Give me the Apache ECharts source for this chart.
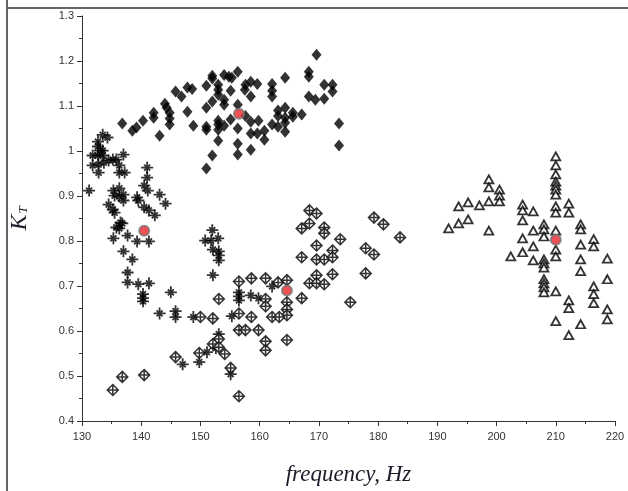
<!DOCTYPE html>
<html style="height: 100%">
<head>
    <meta charset="utf-8">
    <title>K_T vs frequency</title>
    <script type="text/javascript" src="https://cdn.jsdelivr.net/npm/echarts@6/dist/echarts.min.js"></script>
</head>
<body style="height: 100%; margin: 0; background: #fff">
    <div id="container" style="width: 628px; height: 491px"></div>
    <script type="text/javascript">
        // axis ranges
        var xMin = 130, xMax = 220, xStep = 10;
        var yMin = 0.4, yMax = 1.3, yStep = 0.1;

        // filled diamonds [frequency, K_T]
        var filledDiamond = [
            [136.8,1.061],[138.5,1.045],[139.2,1.052],[140.3,1.067],[142.1,1.085],[142.1,1.074],[143.1,1.034],
            [144.0,1.105],[144.3,1.096],[144.8,1.085],[144.8,1.072],[144.8,1.059],[145.8,1.132],[146.8,1.121],
            [147.8,1.087],[147.8,1.141],[148.6,1.138],[148.8,1.056],[151.0,1.145],[151.0,1.096],[151.0,1.054],
            [151.0,1.047],[151.0,0.961],[152.0,1.167],[152.0,1.161],[153.0,1.147],[153.0,1.136],[153.0,1.125],
            [152.0,1.110],[152.0,0.990],[153.0,1.067],[153.0,1.059],[153.0,1.047],[153.0,1.023],[154.0,1.169],
            [154.8,1.165],[155.3,1.163],[154.0,1.114],[154.0,1.103],[154.0,1.056],[155.1,1.134],[155.1,1.070],
            [156.3,1.176],[156.3,1.103],[156.3,1.050],[156.3,1.016],[156.3,0.992],[157.6,1.147],[157.5,1.136],
            [158.5,1.154],[157.6,1.078],[158.5,1.121],[158.5,1.065],[158.5,1.039],[158.5,1.003],[159.6,1.149],
            [159.8,1.067],[159.6,1.039],[160.8,1.045],[160.8,1.025],[162.1,1.149],[162.1,1.134],[162.1,1.121],
            [162.1,1.059],[163.1,1.090],[163.1,1.078],[163.1,1.054],[164.3,1.163],[164.3,1.096],[164.3,1.074],
            [164.3,1.063],[164.3,1.043],[165.6,1.085],[165.6,1.076],[167.1,1.081],[168.3,1.176],[168.3,1.165],
            [168.3,1.121],[169.6,1.214],[169.4,1.114],[170.9,1.147],[170.9,1.116],[172.3,1.147],[172.3,1.132],
            [173.4,1.061],[173.4,1.012]
        ];

        // asterisks
        var asterisk = [
            [133.5,1.036],[134.3,1.030],[132.7,1.021],[132.7,1.010],[133.0,1.001],[133.5,1.001],[131.8,0.990],
            [132.7,0.990],[133.5,0.990],[131.8,0.968],[132.8,0.970],[132.8,0.952],[133.7,0.974],[134.5,0.979],
            [135.2,0.981],[135.8,0.981],[137.0,0.992],[136.3,0.968],[136.3,0.952],[137.2,0.952],[131.2,0.912],
            [135.3,0.912],[135.5,0.901],[136.3,0.917],[136.3,0.899],[137.0,0.903],[137.0,0.890],[134.5,0.881],
            [135.2,0.870],[135.5,0.863],[141.0,0.963],[141.0,0.941],[140.5,0.923],[141.1,0.912],[139.3,0.897],
            [139.5,0.890],[143.1,0.903],[144.1,0.883],[140.5,0.875],[141.3,0.868],[142.3,0.857],[136.5,0.841],
            [135.8,0.830],[136.3,0.828],[136.8,0.839],[137.7,0.812],[135.3,0.806],[139.3,0.799],[141.3,0.799],
            [137.0,0.777],[138.5,0.759],[137.7,0.730],[137.7,0.708],[139.5,0.704],[141.3,0.706],[140.3,0.682],
            [140.3,0.673],[140.3,0.666],[145.0,0.686],[143.1,0.639],[145.8,0.644],[145.8,0.631],[148.8,0.631],
            [152.1,0.781],[153.1,0.777],[153.1,0.768],[153.1,0.757],[150.8,0.801],[151.8,0.801],[152.0,0.824],
            [153.0,0.806],[152.1,0.724],[155.3,0.633],[156.5,0.686],[156.5,0.677],[156.5,0.668],[158.5,0.679],
            [159.8,0.673],[162.1,0.699],[153.1,0.593],[151.1,0.553],[152.6,0.562],[149.8,0.531],[147.0,0.526],
            [155.1,0.504]
        ];

        // diamonds with a cross inside
        var crossedDiamond = [
            [168.4,0.868],[169.6,0.861],[167.1,0.828],[168.4,0.839],[170.9,0.830],[170.9,0.817],[173.6,0.804],
            [179.3,0.852],[180.9,0.837],[183.7,0.808],[177.9,0.784],[179.3,0.770],[169.6,0.790],[172.3,0.779],
            [167.1,0.764],[169.6,0.759],[170.9,0.759],[172.3,0.764],[177.9,0.728],[172.3,0.726],[169.6,0.724],
            [168.4,0.706],[169.6,0.706],[170.9,0.704],[156.5,0.710],[158.6,0.717],[161.0,0.717],[163.1,0.708],
            [164.6,0.713],[167.1,0.673],[161.0,0.671],[161.0,0.655],[164.6,0.664],[164.6,0.648],[164.6,0.635],
            [162.1,0.631],[163.3,0.631],[158.6,0.631],[175.3,0.664],[156.5,0.602],[157.6,0.602],[159.8,0.602],
            [161.0,0.577],[161.0,0.557],[164.6,0.580],[153.1,0.671],[150.0,0.631],[152.1,0.628],[156.5,0.639],
            [153.1,0.582],[152.1,0.571],[153.1,0.564],[154.1,0.549],[149.8,0.551],[145.8,0.542],[155.1,0.518],
            [140.5,0.502],[136.8,0.498],[135.2,0.469],[156.5,0.455]
        ];

        // open triangles
        var triangle = [
            [210.0,0.988],[210.0,0.968],[210.0,0.948],[210.0,0.932],[210.0,0.923],[210.0,0.914],[210.0,0.903],
            [198.7,0.937],[198.7,0.919],[200.5,0.914],[200.5,0.901],[200.5,0.888],[193.6,0.877],[195.2,0.886],
            [197.1,0.879],[198.7,0.888],[204.4,0.881],[204.4,0.868],[204.4,0.846],[206.2,0.866],[210.0,0.877],
            [210.0,0.863],[212.2,0.883],[212.2,0.863],[191.9,0.828],[193.6,0.839],[195.2,0.848],[198.7,0.823],
            [208.0,0.837],[208.0,0.826],[208.0,0.810],[206.2,0.823],[204.4,0.806],[210.0,0.823],[214.2,0.837],
            [214.2,0.826],[210.0,0.781],[210.0,0.766],[206.2,0.788],[204.4,0.775],[202.4,0.766],[206.2,0.757],
            [208.0,0.759],[208.0,0.750],[208.0,0.741],[214.2,0.792],[216.4,0.804],[216.4,0.788],[214.2,0.759],
            [218.7,0.761],[214.2,0.733],[208.0,0.715],[208.0,0.706],[208.0,0.697],[208.0,0.686],[210.0,0.688],
            [216.4,0.699],[216.4,0.682],[216.4,0.662],[218.7,0.715],[212.2,0.668],[212.2,0.651],[218.7,0.648],
            [218.7,0.626],[210.0,0.622],[214.2,0.615],[212.2,0.591]
        ];

        // cluster centres (red)
        var centres = [[156.5,1.083],[140.5,0.823],[164.6,0.690],[210.0,0.803]];

        var dom = document.getElementById("container");
        var myChart = echarts.init(dom, null, { renderer: 'canvas' });

        var labelFont = { color: '#333', fontSize: 11, fontFamily: 'Liberation Sans' };

        var option = {
            animation: false,
            backgroundColor: '#fff',
            grid: { left: 74, right: 13, top: 16, bottom: 67 },
            // frame lines of the cropped figure (left and top)
            graphic: [
                { type: 'line', shape: { x1: 7, y1: 0, x2: 7, y2: 491 }, style: { stroke: '#666', lineWidth: 2 } },
                { type: 'line', shape: { x1: 7, y1: 8, x2: 628, y2: 8 }, style: { stroke: '#666', lineWidth: 2 } }
            ],
            xAxis: {
                type: 'value',
                min: xMin, max: xMax, interval: xStep,
                name: 'frequency, Hz',
                nameLocation: 'middle',
                nameGap: 42,
                nameTextStyle: { fontFamily: 'Liberation Serif', fontStyle: 'italic', fontSize: 23, color: '#1c1c2a' },
                axisLine: { show: true, lineStyle: { color: '#333', width: 1 } },
                axisTick: { show: true, length: 5, lineStyle: { color: '#333' } },
                minorTick: { show: true, splitNumber: 2, length: 3, lineStyle: { color: '#333' } },
                splitLine: { show: false },
                axisLabel: Object.assign({ margin: 10 }, labelFont)
            },
            yAxis: {
                type: 'value',
                min: yMin, max: yMax, interval: yStep,
                name: '{k|K}{t|T}',
                nameLocation: 'middle',
                nameGap: 50,
                nameRotate: 90,
                nameTextStyle: {
                    rich: {
                        k: { fontFamily: 'Liberation Serif', fontStyle: 'italic', fontSize: 24, color: '#1c1c2a' },
                        t: { fontFamily: 'Liberation Serif', fontStyle: 'italic', fontSize: 13, color: '#1c1c2a', padding: [8, 0, 0, 1] }
                    }
                },
                axisLine: { show: true, lineStyle: { color: '#333', width: 1 } },
                axisTick: { show: true, length: 5, lineStyle: { color: '#333' } },
                minorTick: { show: true, splitNumber: 2, length: 3, lineStyle: { color: '#333' } },
                splitLine: { show: false },
                axisLabel: Object.assign({ margin: 8 }, labelFont)
            },
            series: [
                {
                    type: 'scatter',
                    data: filledDiamond,
                    symbol: 'diamond',
                    symbolSize: [10, 12],
                    itemStyle: { color: '#000' }
                },
                {
                    type: 'scatter',
                    data: asterisk,
                    symbol: 'path://M0,-10L0,10M-10,0L10,0M-5,-5L5,5M-5,5L5,-5',
                    symbolSize: 12,
                    itemStyle: { color: 'rgba(0,0,0,0)', borderColor: '#000', borderWidth: 1.8 }
                },
                {
                    type: 'scatter',
                    data: crossedDiamond,
                    symbol: 'path://M0,-10L10,0L0,10L-10,0ZM0,-10L0,10M-10,0L10,0',
                    symbolSize: 11,
                    itemStyle: { color: '#fff', borderColor: '#000', borderWidth: 1.5 }
                },
                {
                    type: 'scatter',
                    data: triangle,
                    symbol: 'triangle',
                    symbolSize: [9, 8],
                    itemStyle: { color: '#fff', borderColor: '#000', borderWidth: 1.8 }
                },
                {
                    type: 'scatter',
                    data: centres,
                    symbol: 'circle',
                    symbolSize: 10,
                    z: 10,
                    itemStyle: { color: '#e8262a', borderColor: '#777', borderWidth: 2 }
                }
            ]
        };

        if (option && typeof option === "object") {
            myChart.setOption(option, true);
        }
    </script>
</body>
</html>
